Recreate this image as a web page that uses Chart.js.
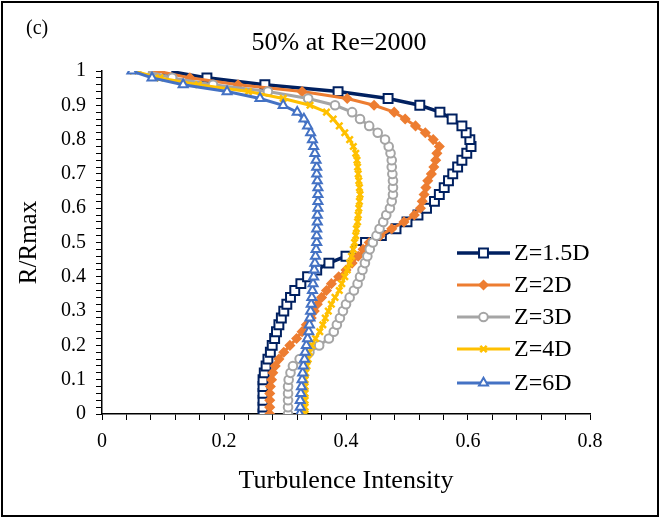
<!DOCTYPE html>
<html><head><meta charset="utf-8">
<script src="https://cdn.jsdelivr.net/npm/chart.js@4.4.1/dist/chart.umd.min.js"></script>
<style>html,body{margin:0;padding:0;background:#fff;}#wrap{width:661px;height:518px;}</style>
</head><body><div id="wrap"><canvas id="c" width="661" height="518"></canvas></div>
<script>
// R/Rmax positions (shared by every series)
const rValues = [0,0.02,0.04,0.06,0.08,0.1,0.12,0.14,0.16,0.18,0.2,0.22,0.24,0.26,0.28,0.3,0.32,0.34,0.36,0.38,0.4,0.42,0.44,0.46,0.48,0.5,0.52,0.54,0.56,0.58,0.6,0.62,0.64,0.66,0.68,0.7,0.72,0.74,0.76,0.78,0.8,0.82,0.84,0.86,0.88,0.9,0.92,0.94,0.96,0.98,1];
// Turbulence intensity per series
const z15 = [0.264,0.264,0.264,0.264,0.264,0.264,0.266,0.269,0.272,0.276,0.279,0.283,0.286,0.290,0.294,0.298,0.303,0.309,0.316,0.326,0.337,0.352,0.372,0.400,0.418,0.432,0.458,0.482,0.500,0.518,0.532,0.545,0.553,0.561,0.568,0.575,0.583,0.590,0.598,0.605,0.603,0.597,0.590,0.574,0.554,0.521,0.469,0.387,0.267,0.172,0.108];
const z2  = [0.275,0.275,0.275,0.275,0.276,0.278,0.280,0.284,0.290,0.298,0.308,0.319,0.328,0.335,0.343,0.348,0.353,0.360,0.368,0.376,0.388,0.400,0.410,0.420,0.428,0.438,0.456,0.475,0.495,0.512,0.522,0.525,0.528,0.531,0.534,0.540,0.544,0.547,0.549,0.553,0.543,0.530,0.514,0.497,0.479,0.446,0.402,0.328,0.223,0.144,0.090];
const z3  = [0.305,0.305,0.305,0.305,0.305,0.306,0.309,0.313,0.324,0.340,0.356,0.372,0.380,0.385,0.390,0.395,0.400,0.406,0.413,0.419,0.423,0.427,0.431,0.435,0.439,0.444,0.450,0.455,0.461,0.466,0.472,0.475,0.477,0.477,0.477,0.476,0.475,0.475,0.473,0.470,0.464,0.452,0.438,0.423,0.410,0.382,0.338,0.272,0.182,0.115,0.070];
const z4  = [0.333,0.333,0.333,0.333,0.333,0.333,0.334,0.336,0.338,0.340,0.344,0.350,0.357,0.362,0.366,0.371,0.376,0.382,0.389,0.393,0.398,0.402,0.406,0.409,0.412,0.414,0.416,0.417,0.419,0.420,0.421,0.422,0.423,0.422,0.421,0.420,0.419,0.418,0.416,0.412,0.406,0.398,0.389,0.379,0.368,0.341,0.297,0.240,0.158,0.095,0.051];
const z6  = [0.324,0.325,0.325,0.326,0.327,0.328,0.329,0.330,0.332,0.333,0.335,0.337,0.339,0.340,0.341,0.342,0.343,0.344,0.345,0.346,0.347,0.348,0.349,0.350,0.351,0.352,0.352,0.352,0.353,0.353,0.354,0.354,0.354,0.354,0.353,0.352,0.352,0.351,0.349,0.347,0.345,0.342,0.337,0.331,0.320,0.297,0.259,0.205,0.133,0.082,0.049];
const seriesNames = ['Z=1.5D','Z=2D','Z=3D','Z=4D','Z=6D'];
const xTickLabels = ['0','0.2','0.4','0.6','0.8'];
const yTickLabels = ['0','0.1','0.2','0.3','0.4','0.5','0.6','0.7','0.8','0.9','1'];

const FONT = "'Liberation Serif','Times New Roman',serif";
const toPts = arr => arr.map((v,i)=>({x:v,y:rValues[i]}));

const styles = [
  {color:'#002060', pointStyle:'rect', radius:6.3, fill:'#ffffff', bw:2, lw:3.5},
  {color:'#ED7D31', pointStyle:'rectRot', radius:4.5, fill:'#ED7D31', bw:1.5, lw:3},
  {color:'#A5A5A5', pointStyle:'circle', radius:4.3, fill:'#ffffff', bw:2, lw:3},
  {color:'#FFC000', pointStyle:'crossRot', radius:4.5, fill:'#FFC000', bw:2.5, lw:3},
  {color:'#4472C4', pointStyle:'triangle', radius:5.2, fill:'#ffffff', bw:2, lw:3}
];
const seriesData = [z15,z2,z3,z4,z6];

const datasets = seriesData.map((d,i)=>({
  label: seriesNames[i],
  data: toPts(d),
  showLine: true,
  borderColor: styles[i].color,
  borderWidth: styles[i].lw,
  pointStyle: styles[i].pointStyle,
  pointRadius: styles[i].radius,
  pointBackgroundColor: styles[i].fill,
  pointBorderColor: styles[i].color,
  pointBorderWidth: styles[i].bw,
  tension: 0,
  order: 5 - i
}));

const framePlugin = {
  id: 'frame',
  afterLayout(chart){
    const t = chart.titleBlock;
    if (t) { t.left -= 7; t.right -= 7; }
  },
  beforeDraw(chart){
    const ctx = chart.ctx;
    ctx.save();
    ctx.fillStyle = '#fff';
    ctx.fillRect(0,0,chart.width,chart.height);
    ctx.restore();
  },
  afterDraw(chart){
    const ctx = chart.ctx;
    ctx.save();
    ctx.strokeStyle = '#000';
    ctx.lineWidth = 2;
    ctx.strokeRect(2,2,chart.width-5,chart.height-4);
    ctx.fillStyle = '#000';
    ctx.font = '20px ' + FONT;
    ctx.textBaseline = 'middle';
    ctx.textAlign = 'left';
    ctx.fillText('(c)', 26, 29);
    // legend
    const rows = [253,285,317,349,383];
    const x0 = 457, x1 = 510;
    chart.data.datasets.forEach((ds,i)=>{
      const y = rows[i];
      ctx.strokeStyle = ds.borderColor;
      ctx.lineWidth = ds.borderWidth;
      ctx.beginPath(); ctx.moveTo(x0,y); ctx.lineTo(x1,y); ctx.stroke();
      ctx.fillStyle = ds.pointBackgroundColor;
      ctx.strokeStyle = ds.pointBorderColor;
      ctx.lineWidth = ds.pointBorderWidth;
      Chart.helpers.drawPoint(ctx, {pointStyle: ds.pointStyle, radius: ds.pointRadius, rotation:0, borderWidth: ds.pointBorderWidth}, (x0+x1)/2, y);
      ctx.fillStyle = '#000';
      ctx.font = '24px ' + FONT;
      ctx.textBaseline = 'middle';
      ctx.fillText(ds.label, 514, y+1);
    });
    ctx.restore();
  }
};

new Chart(document.getElementById('c'), {
  type: 'scatter',
  data: { datasets },
  options: {
    responsive: false,
    animation: false,
    devicePixelRatio: 1,
    layout: { padding: { left: 0, right: 71, top: 0, bottom: 0 } },
    plugins: {
      legend: { display: false },
      tooltip: { enabled: false },
      title: {
        display: true, text: '50% at Re=2000', fullSize: false,
        color: '#000', font: { family: FONT, size: 26, weight: 'normal' },
        padding: { top: 27.4, bottom: 12.4 }
      }
    },
    scales: {
      x: {
        type: 'linear', min: 0, max: 0.8,
        afterFit(s){ s.height = 104; },
        border: { display: true, color: '#000', width: 1.5 },
        grid: { display: true, drawOnChartArea: false, drawTicks: true, tickLength: 6, color: '#000', lineWidth: 1 },
        ticks: {
          stepSize: 0.04, autoSkip: false, maxRotation: 0, color: '#000', padding: 10,
          font: { family: FONT, size: 20 },
          callback(v){ const k = Math.round(v*100); return k % 20 === 0 ? xTickLabels[k/20] : ''; }
        },
        title: { display: true, text: 'Turbulence Intensity', color: '#000', font: { family: FONT, size: 26 }, padding: { top: 0, bottom: 21 } }
      },
      y: {
        type: 'linear', min: 0, max: 1,
        afterFit(s){ s.width = 102; },
        border: { display: true, color: '#000', width: 1.5 },
        grid: { display: true, drawOnChartArea: false, drawTicks: true, tickLength: 6, color: '#000', lineWidth: 1 },
        ticks: {
          stepSize: 0.02, autoSkip: false, color: '#000', padding: 10,
          font: { family: FONT, size: 20 },
          callback(v){ const k = Math.round(v*100); return k % 10 === 0 ? yTickLabels[k/10] : ''; }
        },
        title: { display: true, text: 'R/Rmax', color: '#000', font: { family: FONT, size: 25 }, padding: { top: 14, bottom: 0 } }
      }
    }
  },
  plugins: [framePlugin]
});
</script>
</body></html>
